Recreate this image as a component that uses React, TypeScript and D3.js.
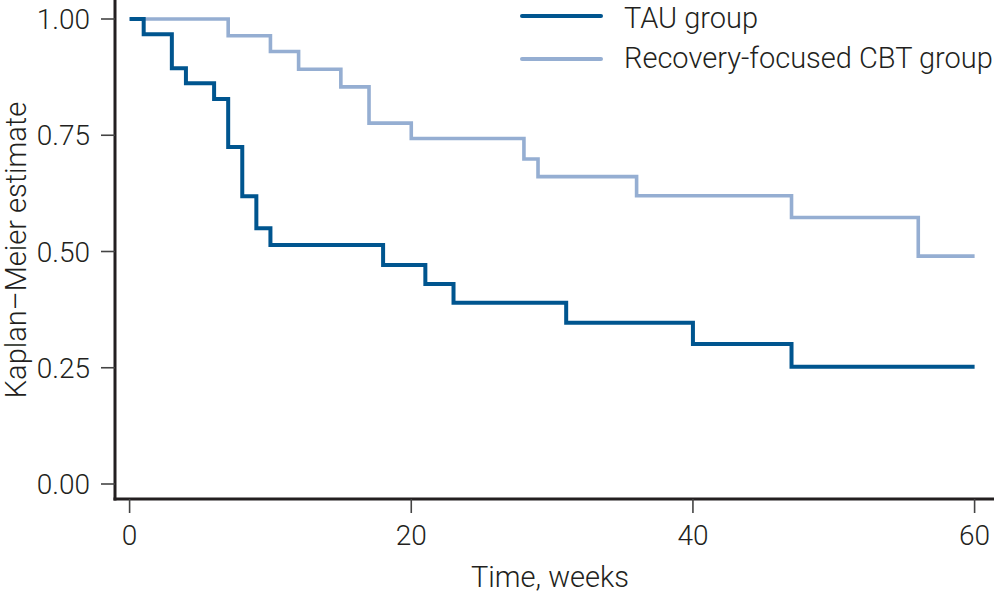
import React from "react";
import * as d3 from "d3";

const tauTimes = [0, 1, 3, 4, 6, 7, 8, 9, 10, 18, 21, 23, 31, 40, 47, 60];
const tauSurvival = [1.0, 0.967, 0.894, 0.862, 0.828, 0.725, 0.619, 0.55, 0.514, 0.471, 0.43, 0.39, 0.347, 0.301, 0.252, 0.252];

const cbtTimes = [0, 7, 10, 12, 15, 17, 20, 28, 29, 36, 47, 56, 60];
const cbtSurvival = [1.0, 0.964, 0.93, 0.892, 0.854, 0.776, 0.743, 0.699, 0.661, 0.62, 0.573, 0.49, 0.49];

const xTicks = [0, 20, 40, 60];
const yTicks = [0, 0.25, 0.5, 0.75, 1];

const seriesNames = ["TAU group", "Recovery-focused CBT group"];
const seriesColors = ["#00558f", "#95aed2"];

const W = 994;
const H = 594;
const FONT = "Roboto, 'Liberation Sans', sans-serif";
const TEXT = "#231f20";

export default function App() {
  const x = d3.scaleLinear().domain([0, 60]).range([129.6, 974.6]);
  const y = d3.scaleLinear().domain([0, 1]).range([484, 19]);
  const line = d3
    .line<[number, number]>()
    .x((d) => x(d[0]))
    .y((d) => y(d[1]))
    .curve(d3.curveStepAfter);

  const tau: [number, number][] = tauTimes.map((t, i) => [t, tauSurvival[i]]);
  const cbt: [number, number][] = cbtTimes.map((t, i) => [t, cbtSurvival[i]]);
  const fmt = d3.format(".2f");
  const axisY = 499;
  const axisX = 115;
  const legendLineY = [16, 59];
  const legendTextY = [28, 68];

  return (
    <svg width={W} height={H} style={{ position: "absolute", left: 0, top: 0, background: "#fff" }} fontFamily={FONT}>
      {/* axes */}
      <line x1={axisX} y1={0} x2={axisX} y2={axisY + 1.5} stroke={TEXT} strokeWidth={3} />
      <line x1={axisX - 1.5} y1={axisY} x2={W} y2={axisY} stroke={TEXT} strokeWidth={3} />
      {yTicks.map((t) => (
        <g key={"y" + t}>
          <line x1={101} x2={axisX} y1={y(t)} y2={y(t)} stroke="#444" strokeWidth={1.6} />
          <text x={90} y={y(t)} dy="0.36em" textAnchor="end" fontSize={28} fontWeight={300} fill={TEXT}>
            {fmt(t)}
          </text>
        </g>
      ))}
      {xTicks.map((t) => (
        <g key={"x" + t}>
          <line x1={x(t)} x2={x(t)} y1={axisY} y2={513} stroke="#444" strokeWidth={1.6} />
          <text x={x(t)} y={545} textAnchor="middle" fontSize={28} fontWeight={300} fill={TEXT}>
            {t}
          </text>
        </g>
      ))}
      <text x={550} y={587} textAnchor="middle" fontSize={29} fontWeight={300} fill={TEXT}>
        Time, weeks
      </text>
      <text
        transform={`translate(26, 250) rotate(-90)`}
        textAnchor="middle"
        fontSize={29}
        fontWeight={300}
        fill={TEXT}
      >
        Kaplan–Meier estimate
      </text>

      {/* curves */}
      <path d={line(cbt) || ""} fill="none" stroke={seriesColors[1]} strokeWidth={3.6} strokeLinejoin="miter" />
      <path d={line(tau) || ""} fill="none" stroke={seriesColors[0]} strokeWidth={4} strokeLinejoin="miter" />

      {/* legend */}
      {seriesNames.map((name, i) => (
        <g key={name}>
          <line x1={522} x2={601} y1={legendLineY[i]} y2={legendLineY[i]} stroke={seriesColors[i]} strokeWidth={4} strokeLinecap="round" />
          <text x={624} y={legendTextY[i]} fontSize={29} fontWeight={300} fill={TEXT}>
            {name}
          </text>
        </g>
      ))}
    </svg>
  );
}
